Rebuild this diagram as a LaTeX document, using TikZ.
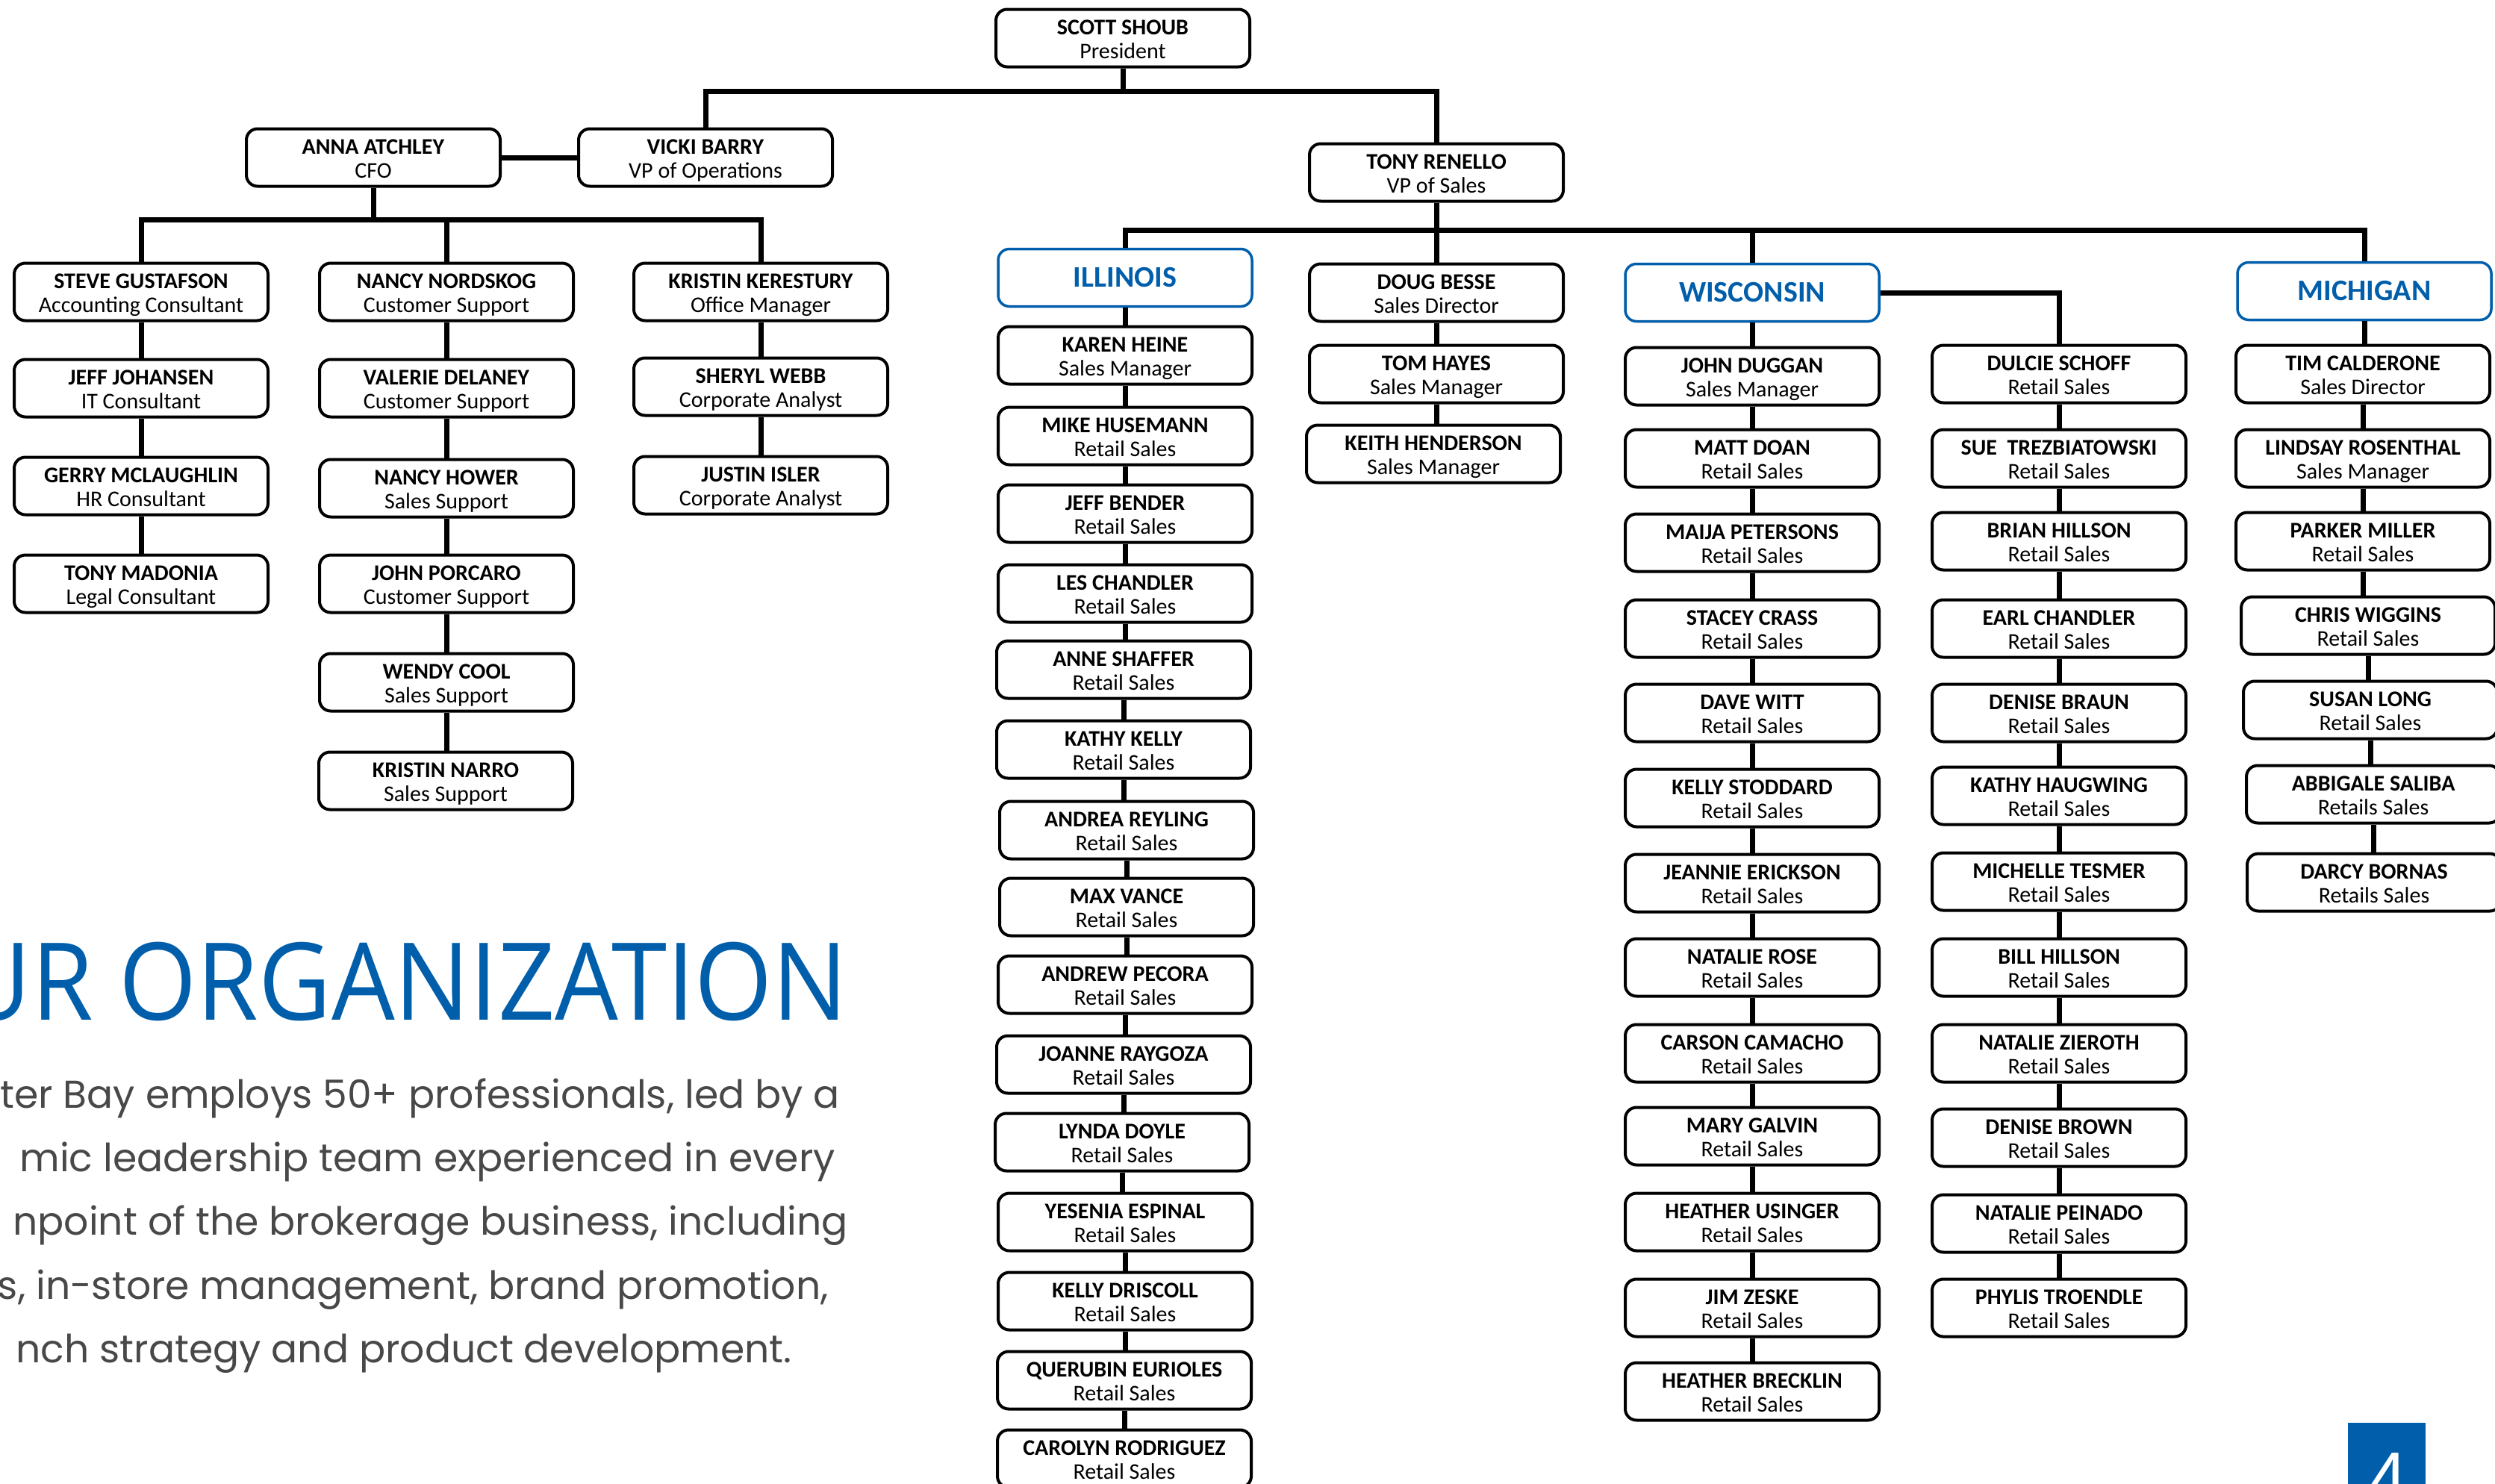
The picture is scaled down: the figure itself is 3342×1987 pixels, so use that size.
\documentclass[tikz,border=0pt]{standalone}
\usepackage{fontspec}
\setmainfont{Carlito}
\newfontfamily\titlefont{Open Sans}[FakeStretch=0.93]
\newfontfamily\parafamily{Poppins}
\definecolor{ourblue}{RGB}{0,94,170}
\definecolor{paragray}{RGB}{72,72,72}
\newcommand{\pn}[4]{\node[pbox] (#1) at (#2) {\textbf{#3}\rule{0pt}{30pt}\\#4\rule[-7pt]{0pt}{7pt}};}
\newcommand{\hn}[3]{\node[hbox] (#1) at (#2) {#3};}
\newcommand{\vlink}[2]{\draw[conn] (#1.south) -- (#1.south |- #2.north);}
\tikzset{
  pbox/.style={draw=black, line width=4pt, rounded corners=15pt, minimum width=340pt,
    minimum height=77pt, inner sep=0pt, align=center, fill=white,
    font=\fontsize{30}{32}\selectfont},
  hbox/.style={pbox, draw=ourblue, line width=3.5pt, text=ourblue,
    font=\fontsize{40}{44}\selectfont\bfseries},
  conn/.style={line width=7pt, line join=miter},
  paraline/.style={anchor=base east, inner sep=0pt, text=paragray,
    font=\parafamily\fontsize{52}{60}\selectfont}
}
\begin{document}
\begin{tikzpicture}[x=1pt,y=-1pt]
\useasboundingbox (0,0) rectangle (3342,1987);
\clip (0,0) rectangle (3342,1987);
\fill[white] (0,0) rectangle (3342,1987);

% top
\pn{scott}{1504,51}{SCOTT SHOUB}{President}
\pn{vicki}{945,211}{VICKI BARRY}{VP of Operations}
\pn{anna}{500,211}{ANNA ATCHLEY}{CFO}
\pn{tonyr}{1924,231}{TONY RENELLO}{VP of Sales}

% left block
\pn{steve}{189,391}{STEVE GUSTAFSON}{Accounting Consultant}
\pn{jeffj}{189,520}{JEFF JOHANSEN}{IT Consultant}
\pn{gerry}{189,651}{GERRY MCLAUGHLIN}{HR Consultant}
\pn{tonym}{189,782}{TONY MADONIA}{Legal Consultant}
\pn{nancyn}{598,391}{NANCY NORDSKOG}{Customer Support}
\pn{valerie}{598,520}{VALERIE DELANEY}{Customer Support}
\pn{nancyh}{598,654}{NANCY HOWER}{Sales Support}
\pn{johnp}{598,782}{JOHN PORCARO}{Customer Support}
\pn{wendy}{598,914}{WENDY COOL}{Sales Support}
\pn{kristinn}{597,1046}{KRISTIN NARRO}{Sales Support}
\pn{kristink}{1019,391}{KRISTIN KERESTURY}{Office Manager}
\pn{sheryl}{1019,518}{SHERYL WEBB}{Corporate Analyst}
\pn{justin}{1019,650}{JUSTIN ISLER}{Corporate Analyst}

% Illinois
\hn{ill}{1507,372}{ILLINOIS}
\pn{karen}{1507,476}{KAREN HEINE}{Sales Manager}
\pn{mike}{1507,584}{MIKE HUSEMANN}{Retail Sales}
\pn{jeffb}{1507,688}{JEFF BENDER}{Retail Sales}
\pn{les}{1507,795}{LES CHANDLER}{Retail Sales}
\pn{anne}{1505,897}{ANNE SHAFFER}{Retail Sales}
\pn{kathy}{1505,1004}{KATHY KELLY}{Retail Sales}
\pn{andrea}{1509,1112}{ANDREA REYLING}{Retail Sales}
\pn{max}{1509,1215}{MAX VANCE}{Retail Sales}
\pn{andrew}{1507,1319}{ANDREW PECORA}{Retail Sales}
\pn{joanne}{1505,1426}{JOANNE RAYGOZA}{Retail Sales}
\pn{lynda}{1503,1530}{LYNDA DOYLE}{Retail Sales}
\pn{yesenia}{1507,1637}{YESENIA ESPINAL}{Retail Sales}
\pn{kellyd}{1507,1743}{KELLY DRISCOLL}{Retail Sales}
\pn{querubin}{1506,1849}{QUERUBIN EURIOLES}{Retail Sales}
\pn{carolyn}{1506,1954}{CAROLYN RODRIGUEZ}{Retail Sales}

% Doug column
\pn{doug}{1924,392}{DOUG BESSE}{Sales Director}
\pn{tom}{1924,501}{TOM HAYES}{Sales Manager}
\pn{keith}{1920,608}{KEITH HENDERSON}{Sales Manager}

% Wisconsin
\hn{wis}{2347,392}{WISCONSIN}
\pn{john}{2347,504}{JOHN DUGGAN}{Sales Manager}
\pn{matt}{2347,614}{MATT DOAN}{Retail Sales}
\pn{maija}{2347,727}{MAIJA PETERSONS}{Retail Sales}
\pn{stacey}{2347,842}{STACEY CRASS}{Retail Sales}
\pn{dave}{2347,955}{DAVE WITT}{Retail Sales}
\pn{kellys}{2347,1069}{KELLY STODDARD}{Retail Sales}
\pn{jeannie}{2347,1183}{JEANNIE ERICKSON}{Retail Sales}
\pn{natrose}{2347,1296}{NATALIE ROSE}{Retail Sales}
\pn{carson}{2347,1411}{CARSON CAMACHO}{Retail Sales}
\pn{mary}{2347,1522}{MARY GALVIN}{Retail Sales}
\pn{heatheru}{2347,1637}{HEATHER USINGER}{Retail Sales}
\pn{jim}{2347,1752}{JIM ZESKE}{Retail Sales}
\pn{heatherb}{2347,1864}{HEATHER BRECKLIN}{Retail Sales}

\pn{dulcie}{2758,501}{DULCIE SCHOFF}{Retail Sales}
\pn{sue}{2758,614}{SUE\ \ TREZBIATOWSKI}{Retail Sales}
\pn{brian}{2758,725}{BRIAN HILLSON}{Retail Sales}
\pn{earl}{2758,842}{EARL CHANDLER}{Retail Sales}
\pn{denisea}{2758,955}{DENISE BRAUN}{Retail Sales}
\pn{kathyh}{2758,1066}{KATHY HAUGWING}{Retail Sales}
\pn{michelle}{2758,1181}{MICHELLE TESMER}{Retail Sales}
\pn{bill}{2758,1296}{BILL HILLSON}{Retail Sales}
\pn{natz}{2758,1411}{NATALIE ZIEROTH}{Retail Sales}
\pn{deniseb}{2758,1524}{DENISE BROWN}{Retail Sales}
\pn{natp}{2758,1639}{NATALIE PEINADO}{Retail Sales}
\pn{phylis}{2758,1752}{PHYLIS TROENDLE}{Retail Sales}

% Michigan
\hn{mich}{3167,390}{MICHIGAN}
\pn{tim}{3165,501}{TIM CALDERONE}{Sales Director}
\pn{lindsay}{3165,614}{LINDSAY ROSENTHAL}{Sales Manager}
\pn{parker}{3165,725}{PARKER MILLER}{Retail Sales}
\pn{chris}{3172,838}{CHRIS WIGGINS}{Retail Sales}
\pn{susan}{3175,951}{SUSAN LONG}{Retail Sales}
\pn{abbigale}{3179,1064}{ABBIGALE SALIBA}{Retails Sales}
\pn{darcy}{3180,1182}{DARCY BORNAS}{Retails Sales}

% connectors: top
\coordinate (topbar) at (1504,122);
\coordinate (lbar) at (500,294);
\coordinate (rbar) at (1924,308);
\draw[conn] (scott.south) -- (topbar);
\draw[conn] (vicki.north) |- (tonyr.north |- topbar) -- (tonyr.north);
\draw[conn] (anna.east) -- (vicki.west);
\draw[conn] (anna.south) -- (lbar);
\draw[conn] (steve.north) |- (kristink.north |- lbar) -- (kristink.north);
\draw[conn] (nancyn.north) -- (nancyn.north |- lbar);
\draw[conn] (tonyr.south) -- (rbar);
\draw[conn] (ill.north) |- (mich.north |- rbar) -- (mich.north);
\draw[conn] (doug.north) -- (doug.north |- rbar);
\draw[conn] (wis.north) -- (wis.north |- rbar);
\draw[conn] (wis.east) -| (dulcie.north);

% column links
\foreach \a/\b in {steve/jeffj, jeffj/gerry, gerry/tonym,
  nancyn/valerie, valerie/nancyh, nancyh/johnp, johnp/wendy, wendy/kristinn,
  kristink/sheryl, sheryl/justin,
  ill/karen, karen/mike, mike/jeffb, jeffb/les, les/anne, anne/kathy, kathy/andrea,
  andrea/max, max/andrew, andrew/joanne, joanne/lynda, lynda/yesenia, yesenia/kellyd,
  kellyd/querubin, querubin/carolyn,
  doug/tom, tom/keith,
  wis/john, john/matt, matt/maija, maija/stacey, stacey/dave, dave/kellys, kellys/jeannie,
  jeannie/natrose, natrose/carson, carson/mary, mary/heatheru, heatheru/jim, jim/heatherb,
  dulcie/sue, sue/brian, brian/earl, earl/denisea, denisea/kathyh, kathyh/michelle,
  michelle/bill, bill/natz, natz/deniseb, deniseb/natp, natp/phylis,
  mich/tim, tim/lindsay, lindsay/parker, parker/chris, chris/susan, susan/abbigale,
  abbigale/darcy}
  {\vlink{\a}{\b}}

% title and text
\node[anchor=base east, inner sep=0pt, text=ourblue,
  font=\titlefont\fontsize{144}{150}\selectfont] (title) at (1136,1366) {UR ORGANIZATION};
\node[paraline] (p1) at (1125,1484) {ter Bay employs 50+ professionals, led by a};
\node[paraline] (p2) at (1119,1569) {mic leadership team experienced in every};
\node[paraline] (p3) at (1136,1654) {npoint of the brokerage business, including};
\node[paraline] (p4) at (1110,1740) {s, in-store management, brand promotion,};
\node[paraline] (p5) at (1061,1825) {nch strategy and product development.};

% page number
\fill[ourblue] (3145,1906) rectangle (3249,1990);
\node[anchor=base, inner sep=0pt, text=white,
  font=\titlefont\fontsize{110}{110}\selectfont] (pg) at (3197,2025) {4};
\end{tikzpicture}
\end{document}
